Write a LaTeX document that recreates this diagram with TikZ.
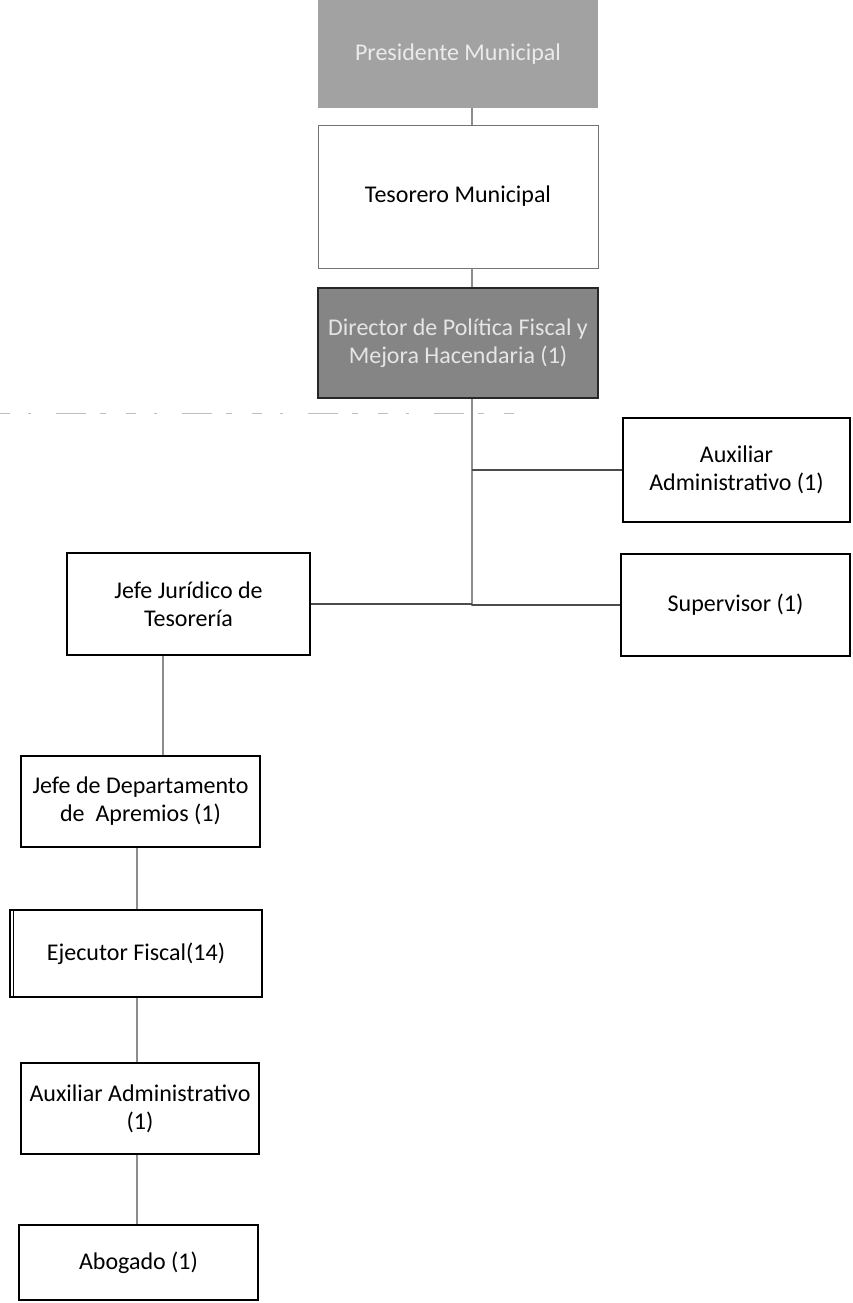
\documentclass[tikz,border=0pt]{standalone}
\usepackage{fontspec}
\setmainfont{Carlito}
\begin{document}
\begin{tikzpicture}[x=1pt,y=-1pt,
  every node/.style={font=\fontsize{24}{28}\selectfont, align=center, inner sep=0pt},
  post/.style={draw=black, line width=1.4pt, fill=white, rectangle},
  headbox/.style={fill=headgray, rectangle, text=white!92!black},
  darkbox/.style={draw=black!85, line width=1.6pt, fill=dirgray, rectangle, text=white!90!black},
  lightbox/.style={draw=black!55, line width=0.8pt, fill=white, rectangle},
  link/.style={draw=black!45, line width=1.2pt},
  branch/.style={draw=black!70, line width=1.6pt}
]
\definecolor{headgray}{HTML}{A2A2A2}
\definecolor{dirgray}{HTML}{858585}
\useasboundingbox (0,0) rectangle (852,1303);
\fill[white] (0,0) rectangle (852,1303);

% faint stray rule across the upper left
\draw[black!25, line width=0.7pt, dash pattern=on 10pt off 18pt on 3pt off 25pt on 30pt off 14pt on 6pt off 20pt] (0,413) -- (525,413);

% column positions of the vertical links
\coordinate (trunk) at (472,0);
\coordinate (legal) at (163,0);
\coordinate (lower) at (137,0);

% top of the chart
\node[headbox, minimum width=280pt, minimum height=108pt] (pres) at (458,54) {Presidente Municipal};
\node[lightbox, minimum width=280pt, minimum height=143pt] (tes) at (458,196.5) {Tesorero Municipal};
\node[darkbox, minimum width=280pt, minimum height=110pt] (dir) at (458,343) {Director de Política Fiscal y\\Mejora Hacendaria (1)};

% direct reports
\node[post, minimum width=227pt, minimum height=104pt] (aux) at (736.5,470) {Auxiliar\\Administrativo (1)};
\node[post, minimum width=229pt, minimum height=102pt] (sup) at (735.5,605) {Supervisor (1)};
\node[post, minimum width=243pt, minimum height=102pt] (jur) at (188.5,604) {Jefe Jurídico de\\Tesorería};

% legal branch
\node[post, minimum width=239pt, minimum height=91pt] (dep) at (140.5,801.5) {Jefe de Departamento\\de\ \ Apremios (1)};
\node[post, minimum width=252pt, minimum height=87pt] (eje) at (136,953.5) {Ejecutor Fiscal(14)};
\draw[black, line width=1.2pt] ([xshift=4pt]eje.north west) -- ([xshift=4pt]eje.south west);
\node[post, minimum width=238pt, minimum height=91pt] (auxb) at (140,1108.5) {Auxiliar Administrativo\\(1)};
\node[post, minimum width=239pt, minimum height=75pt] (abo) at (138.5,1262.5) {Abogado (1)};

% connectors
\coordinate (trunkend) at (472,606);
\draw[link] (pres.south -| trunk) -- (tes.north -| trunk);
\draw[link] (tes.south -| trunk) -- (dir.north -| trunk);
\draw[link] (dir.south -| trunk) -- (trunkend);
\draw[branch] (aux.west) -- (aux.west -| trunk);
\draw[branch] (jur.east) -- (jur.east -| trunk);
\draw[branch] (sup.west) -- (sup.west -| trunk);
\draw[link] (jur.south -| legal) -- (dep.north -| legal);
\draw[link] (dep.south -| lower) -- (eje.north -| lower);
\draw[link] (eje.south -| lower) -- (auxb.north -| lower);
\draw[link] (auxb.south -| lower) -- (abo.north -| lower);
\end{tikzpicture}
\end{document}
